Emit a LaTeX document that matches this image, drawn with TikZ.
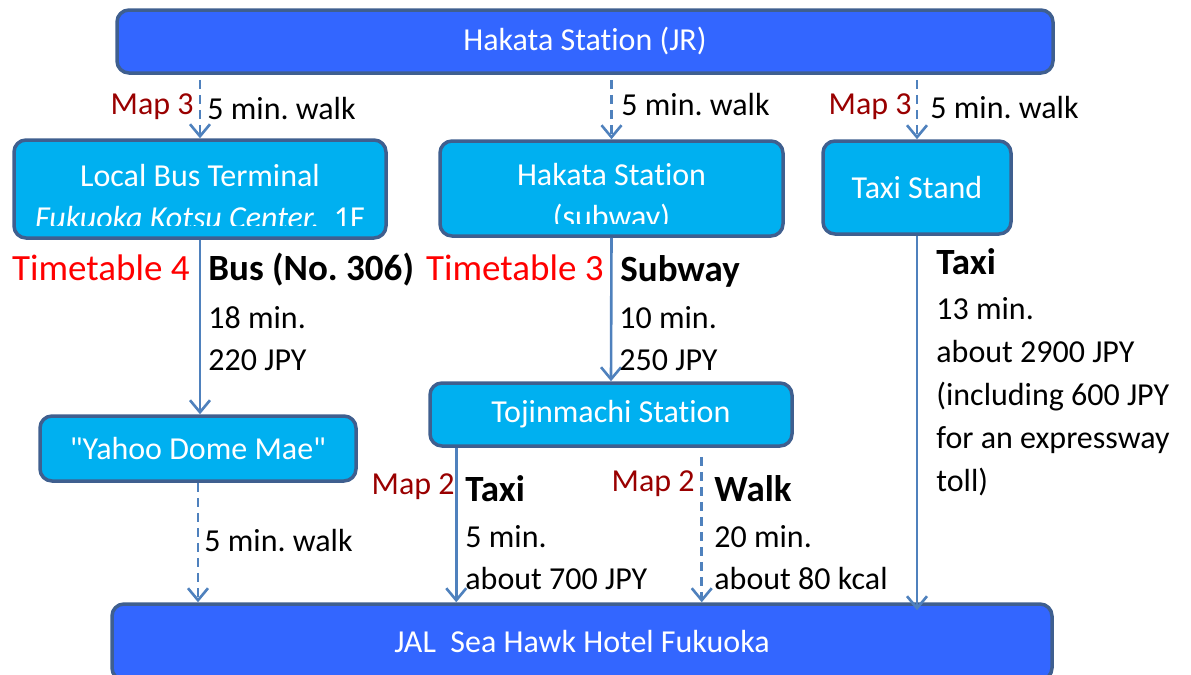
\documentclass[tikz,border=0pt]{standalone}
\usepackage{fontspec}
\setmainfont{Carlito}[Ligatures=NoCommon]
\usepackage{xcolor}
\usetikzlibrary{arrows.meta, positioning}
\frenchspacing

\definecolor{stopline}{HTML}{3F5F8F}
\definecolor{mainblue}{HTML}{3366FF}
\definecolor{subblue}{HTML}{00B0F0}
\definecolor{linkblue}{HTML}{4F81BD}
\definecolor{mapred}{HTML}{990000}
\definecolor{ttred}{HTML}{FF0000}

\begin{document}
\begin{tikzpicture}[
    x=0.5pt, y=-0.5pt,
    stop/.style={rectangle, draw=stopline, line width=1.75pt, rounded corners=6pt, text=white, font=\fontsize{16}{19}\selectfont, align=center, inner sep=0pt},
    mainstop/.style={stop, fill=mainblue},
    substop/.style={stop, fill=subblue},
    stoptext/.style={text=white, font=\fontsize{16}{21}\selectfont, align=center, inner sep=0pt},
    link/.style={draw=linkblue, line width=1.3pt, -{Straight Barb[length=6pt,width=10pt]}},
    walklink/.style={link, dash pattern=on 4.5pt off 3pt},
    note/.style={font=\fontsize{16}{21}\selectfont, inner sep=0pt, align=left},
    mode/.style={font=\fontsize{18.5}{22}\selectfont\bfseries, inner sep=0pt, anchor=west},
    maplabel/.style={note, text=mapred, anchor=east},
    ttlabel/.style={font=\fontsize{18.5}{22}\selectfont, text=ttred, inner sep=0pt, anchor=east},
]
\useasboundingbox (0,0) rectangle (1191,675);

% Stations and stops
\node[mainstop, minimum width=468pt, minimum height=31.5pt] (jr) at (585,41.5) {Hakata Station (JR)};
\node[substop, minimum width=186pt, minimum height=49pt] (bus) at (200,189) {};
\node[substop, minimum width=171.5pt, minimum height=47.5pt] (hsub) at (611.5,188.5) {};
\node[substop, minimum width=94pt, minimum height=46.5pt] (taxi) at (917,187.5) {Taxi Stand};
\node[substop, minimum width=181pt, minimum height=31.5pt] (tojin) at (611,414.5) {Tojinmachi Station};
\node[substop, minimum width=158pt, minimum height=32.5pt] (yahoo) at (198,448.5) {\textquotedbl Yahoo Dome Mae\textquotedbl};
\node[mainstop, minimum width=470pt, minimum height=38pt] (hotel) at (582,642) {JAL\ \ Sea Hawk Hotel Fukuoka};

% Box texts cut off at the bottom
\begin{scope}
\clip (bus.north west) rectangle ([yshift=7pt]bus.south east);
\node[stoptext] (bustext) at (200,197) {Local Bus Terminal\\\textit{Fukuoka Kotsu Center.}\ \ 1F};
\end{scope}
\begin{scope}
\clip (hsub.north west) rectangle ([yshift=7pt]hsub.south east);
\node[stoptext] (hsubtext) at (611.5,198) {Hakata Station\\(subway)};
\end{scope}

% Walks from Hakata Station (JR)
\draw[walklink, shorten <=2.5pt] (jr.south -| bus.north) -- (bus.north);
\draw[walklink, shorten <=2.5pt] (jr.south -| hsub.north) -- (hsub.north);
\draw[walklink, shorten <=2.5pt] (jr.south -| taxi.north) -- (taxi.north);
\node[maplabel] (map3a) at (194,107) {Map 3};
\node[note, anchor=west] (walka) at (207,109) {5 min. walk};
\node[note, anchor=west] (walkb) at (621,105) {5 min. walk};
\node[maplabel] (map3b) at (912,107) {Map 3};
\node[note, anchor=west] (walkc) at (930,108) {5 min. walk};

% Bus
\draw[link] (bus.south) -- (bus.south |- yahoo.north);
\node[ttlabel] (tt4) at (190,268) {Timetable 4};
\node[mode] (busmode) at (208,270) {Bus (No. 306)};
\node[note, anchor=north west] (businfo) at (208,306) {18 min.\\220 JPY};

% Subway
\draw[link] (hsub.south) -- (tojin.north);
\node[ttlabel] (tt3) at (604,268) {Timetable 3};
\node[mode] (submode) at (620,271) {Subway};
\node[note, anchor=north west] (subinfo) at (619,306) {10 min.\\250 JPY};

% Taxi from Hakata
\draw[link, shorten >=-4pt] (taxi.south) -- (taxi.south |- hotel.north);
\node[mode] (taximode) at (936,262) {Taxi};
\node[note, anchor=north west, font=\fontsize{16}{21.5}\selectfont] (taxiinfo) at (936,297) {13 min.\\about 2900 JPY\\(including 600 JPY\\for an expressway\\toll)};

% Walk from Yahoo Dome Mae
\draw[walklink] (yahoo.south) -- (yahoo.south |- hotel.north);
\node[note, anchor=west] (walkd) at (204,541) {5 min. walk};

% From Tojinmachi Station
\draw[link] ([xshift=14pt]tojin.south west) -- ([xshift=14pt]tojin.south west |- hotel.north);
\node[maplabel] (map2a) at (455,487) {Map 2};
\node[mode] (taxi2mode) at (465,489) {Taxi};
\node[note, anchor=north west] (taxi2info) at (465,525) {5 min.\\about 700 JPY};
\draw[walklink, shorten <=4.5pt] ([xshift=-46pt]tojin.south east) -- ([xshift=-46pt]tojin.south east |- hotel.north);
\node[maplabel] (map2b) at (695,484) {Map 2};
\node[mode] (walkmode) at (714,489) {Walk};
\node[note, anchor=north west] (walkinfo) at (714,525) {20 min.\\about 80 kcal};

\end{tikzpicture}
\end{document}
